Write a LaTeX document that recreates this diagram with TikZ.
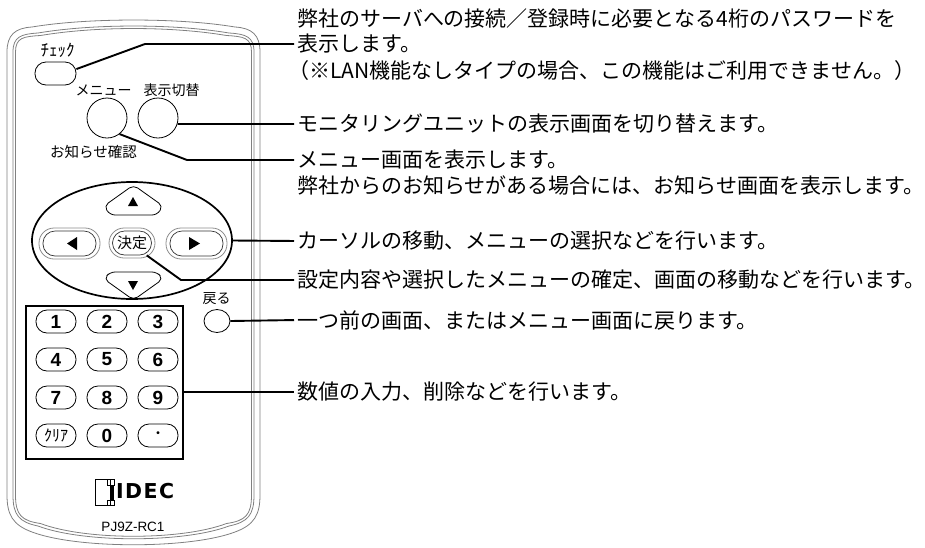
\documentclass[tikz,border=0pt]{standalone}
\usepackage{fontspec}
\setmainfont{Liberation Sans}
\newfontfamily\jp{Noto Sans CJK JP}
\newfontfamily\logofont[LetterSpace=7]{DejaVu Sans}
\usetikzlibrary{shapes.geometric,calc}

% one contour of the remote shell, inset by #1
\newcommand\shellcontour[1]{%
  \draw[shell] ({7+#1},52) -- ({7+#1},495)
    .. controls ({7+#1},515) and ({13+#1},{525-0.5*#1}) .. ({32+#1},{532-#1})
    .. controls ({77+#1},{549-#1}) and ({190-#1},{549-#1}) .. ({235-#1},{532-#1})
    .. controls ({254-#1},{525-0.5*#1}) and ({260-#1},515) .. ({260-#1},495)
    -- ({260-#1},52)
    .. controls ({260-#1},{35+0.3*#1}) and ({252-#1},{28+#1}) .. ({235-#1},{27+#1})
    .. controls ({180-#1},{17.7+#1}) and ({87+#1},{17.7+#1}) .. ({32+#1},{27+#1})
    .. controls ({15+#1},{28+#1}) and ({7+#1},{35+0.3*#1}) .. ({7+#1},52) -- cycle;}

\begin{document}
\begin{tikzpicture}[x=1pt,y=-1pt,
  shell/.style={draw=black!50,line width=0.8pt},
  lead/.style={line width=1.9pt},
  desc/.style={anchor=west,inner sep=0pt,font=\jp\fontsize{21}{21}\selectfont},
  tag/.style={inner sep=0pt,font=\jp\fontsize{14}{14}\selectfont},
  keybtn/.style={draw,line width=0.8pt,rounded corners=11pt,minimum width=40pt,
    minimum height=23pt,inner sep=0pt,font=\fontsize{19}{19}\selectfont\bfseries},
  roundbtn/.style={draw,line width=0.8pt,circle,minimum size=40pt,inner sep=0pt},
  padbtn/.style={draw=black!45,line width=0.8pt,rounded corners=15pt,minimum height=31pt,inner sep=0pt},
  padin/.style={draw=black!80,line width=0.7pt,rounded corners=12pt,minimum height=25pt,inner sep=0pt},
  arrowbtn/.style={draw,line width=0.8pt,rounded corners=5pt},
  tri/.style={fill=black}
]
\useasboundingbox (0,0) rectangle (925,547);

% remote shell
\shellcontour{0}
\shellcontour{6}
\shellcontour{8.5}

% top buttons
\node[draw,line width=0.8pt,rounded corners=11pt,minimum width=41pt,minimum height=23pt] (chk) at (55.5,73.5) {};
\node[tag,font=\jp\fontsize{17}{17}\selectfont] (chklbl) at (57.5,50.5) {ﾁｪｯｸ};
\node[tag] (menulbl) at (103.5,90) {メニュー};
\node[tag] (tgllbl) at (171.5,90) {表示切替};
\node[roundbtn] (menu) at (107,118) {};
\node[roundbtn] (tgl) at (158,118) {};
\node[tag,font=\jp\fontsize{14.5}{14.5}\selectfont] (infolbl) at (93.5,152) {お知らせ確認};

% cursor pad
\node[draw,ellipse,line width=1.7pt,minimum width=200pt,minimum height=117pt,inner sep=0pt] (pad) at (132,240.5) {};
\draw[arrowbtn] (133.5,185) -- (163,206) -- (157,215) -- (110,215) -- (104,206) -- cycle;
\fill[tri] (128,206) -- (138,206) -- (133,197) -- cycle;
\draw[arrowbtn] (133.5,300) -- (163,279) -- (157,272) -- (110,272) -- (104,279) -- cycle;
\fill[tri] (128,281) -- (138,281) -- (133,290) -- cycle;
\node[padbtn,minimum width=61pt] (left) at (69.5,243.5) {};
\node[padin,minimum width=53pt] (leftin) at (69.5,243.5) {};
\fill[tri] (77,237) -- (77,250) -- (67,243.5) -- cycle;
\node[padbtn,minimum width=61pt] (right) at (196.5,243.5) {};
\node[padin,minimum width=53pt] (rightin) at (196.5,243.5) {};
\fill[tri] (189,237) -- (189,250) -- (200,243.5) -- cycle;
\node[padbtn,minimum width=46pt,minimum height=30pt] (kettei) at (132,243) {};
\node[padin,minimum width=39pt,minimum height=24pt,font=\jp\fontsize{15}{15}\selectfont] (ketteiin) at (132,243) {決定};

% back button
\node[tag] (backlbl) at (216.5,299) {戻る};
\node[draw,line width=0.8pt,ellipse,minimum width=26pt,minimum height=23pt,inner sep=0pt] (back) at (217,321) {};

% ten-key block
\node[draw,line width=1.9pt,minimum width=157pt,minimum height=153pt,inner sep=0pt] (kp) at (104.5,382.5) {};
\node[keybtn] (k1) at (56,321.5) {1};
\node[keybtn] (k2) at (107,321.5) {2};
\node[keybtn] (k3) at (158,321.5) {3};
\node[keybtn] (k4) at (56,359.5) {4};
\node[keybtn] (k5) at (107,359.5) {5};
\node[keybtn] (k6) at (158,359.5) {6};
\node[keybtn] (k7) at (56,397.5) {7};
\node[keybtn] (k8) at (107,397.5) {8};
\node[keybtn] (k9) at (158,397.5) {9};
\node[keybtn,font=\jp\fontsize{16}{16}\selectfont] (kclr) at (56,435.5) {ｸﾘｱ};
\node[keybtn] (k0) at (107,435.5) {0};
\node[keybtn,font=\jp\fontsize{14}{14}\selectfont] (kdot) at (158,435.5) {・};

% maker logo and model name
\draw[line width=0.7pt] (95,479.5) rectangle (110,505.5);
\draw[line width=0.7pt] (107,479.5) rectangle (114,485);
\draw[line width=0.7pt] (107,500) rectangle (114,505.5);
\fill (111,485) rectangle (114,500);
\node[inner sep=0pt,anchor=west,font=\logofont\bfseries\fontsize{20.5}{20.5}\selectfont] (logo) at (116,491) {IDEC};
\node[inner sep=0pt,font=\fontsize{13.5}{13.5}\selectfont] (model) at (133,527) {PJ9Z-RC1};

% descriptions
\node[desc] (t1) at (297,19) {弊社のサーバへの接続／登録時に必要となる4桁のパスワードを};
\node[desc] (t2) at (297,44) {表示します。};
\node[desc] (t3) at (288,71) {（※LAN機能なしタイプの場合、この機能はご利用できません。）};
\node[desc] (t4) at (297,124) {モニタリングユニットの表示画面を切り替えます。};
\node[desc] (t5) at (297,160) {メニュー画面を表示します。};
\node[desc] (t5b) at (297,185) {弊社からのお知らせがある場合には、お知らせ画面を表示します。};
\node[desc] (t6) at (297,241) {カーソルの移動、メニューの選択などを行います。};
\node[desc] (t7) at (297,280) {設定内容や選択したメニューの確定、画面の移動などを行います。};
\node[desc] (t8) at (297,320) {一つ前の画面、またはメニュー画面に戻ります。};
\node[desc] (t9) at (297,392) {数値の入力、削除などを行います。};

% leader lines
\coordinate (chkbend) at (145,44);
\coordinate (menubend) at (187,160);
\coordinate (ketteibend) at (181,280);
\draw[lead,shorten >=3pt] (chk.12) -- (chkbend) -- (t2.west);
\draw[lead,shorten >=3pt] (tgl.-17) -- (t4.west);
\draw[lead,shorten >=3pt] (menu.-52) -- (menubend) -- (t5.west);
\draw[lead,shorten >=3pt] (pad.east) -- (t6.west);
\draw[lead,shorten >=3pt] (ketteiin.-40) -- (ketteibend) -- (t7.west);
\draw[lead,shorten >=3pt] (back.east) -- (t8.west);
\draw[lead,shorten >=3pt] (t9.west -| kp.east) -- (t9.west);
\end{tikzpicture}
\end{document}
